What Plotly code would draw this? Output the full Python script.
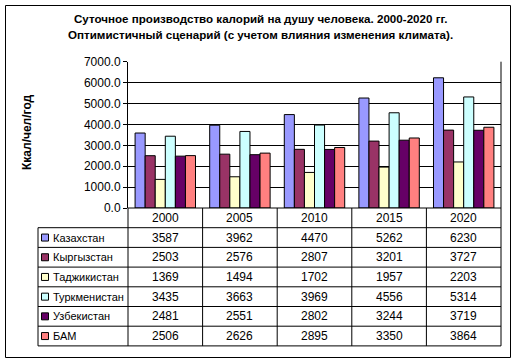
import plotly.graph_objects as go

years = ["2000", "2005", "2010", "2015", "2020"]
countries = ["Казахстан", "Кыргызстан", "Таджикистан", "Туркменистан", "Узбекистан", "БАМ"]
kazakhstan = [3587, 3962, 4470, 5262, 6230]
kyrgyzstan = [2503, 2576, 2807, 3201, 3727]
tajikistan = [1369, 1494, 1702, 1957, 2203]
turkmenistan = [3435, 3663, 3969, 4556, 5314]
uzbekistan = [2481, 2551, 2802, 3244, 3719]
bam = [2506, 2626, 2895, 3350, 3864]
series = [kazakhstan, kyrgyzstan, tajikistan, turkmenistan, uzbekistan, bam]
colors = ["#9999FF", "#993366", "#FFFFCC", "#CCFFFF", "#660066", "#FF8080"]
title_lines = ["Суточное производство калорий на душу человека. 2000-2020 гг.",
               "Оптимистичный сценарий (с учетом влияния изменения климата)."]
y_title = "Ккал/чел/год"

W, H = 517, 363
FONT = "Liberation Sans, Arial, sans-serif"
NUM_FONT = "Liberation Sans Narrow, Liberation Sans, Arial, sans-serif"

def px(x):
    return x / W

def py(y):
    return 1 - y / H

# layout in pixels
PL, PR = 128, 501
PT, PB = 61.7, 208
LEG_L = 38
ROW_H = 19.7
n_rows = len(countries)

fig = go.Figure()
xs = list(range(len(years)))
for name, vals, c in zip(countries, series, colors):
    fig.add_trace(go.Bar(x=xs, y=vals, name=name, marker=dict(color=c, line=dict(color="black", width=1)),
                         showlegend=False, hoverinfo="skip"))

shapes = []
annotations = []

def line(x0, y0, x1, y1):
    shapes.append(dict(type="line", xref="paper", yref="paper", x0=px(x0), y0=py(y0), x1=px(x1), y1=py(y1),
                       line=dict(color="black", width=1)))

# outer border
shapes.append(dict(type="rect", xref="paper", yref="paper", x0=px(5.5), y0=py(357.5), x1=px(510.5), y1=py(5.5),
                   line=dict(color="black", width=1)))
# plot right border
line(PR, PT, PR, PB)

# table
col_w = (PR - PL) / len(years)
table_bottom = PB + ROW_H * (n_rows + 1)
line(PL, PB, PR, PB)
for i in range(1, n_rows + 2):
    y = PB + ROW_H * i
    line(LEG_L, y, PR, y)
for j in range(len(years) + 1):
    x = PL + col_w * j
    line(x, PB, x, table_bottom)
line(LEG_L, PB + ROW_H, LEG_L, table_bottom)

# header
for j, yr in enumerate(years):
    annotations.append(dict(x=px(PL + col_w * (j + 0.5)), y=py(PB + ROW_H * 0.5), xref="paper", yref="paper",
                            text=yr, showarrow=False, font=dict(family=NUM_FONT, size=12, color="black"),
                            xanchor="center", yanchor="middle"))
# rows
for i, (name, vals, c) in enumerate(zip(countries, series, colors)):
    yc = PB + ROW_H * (i + 1.5)
    shapes.append(dict(type="rect", xref="paper", yref="paper", x0=px(41.5), x1=px(48.5),
                       y0=py(yc - 3.5), y1=py(yc + 3.5), fillcolor=c, line=dict(color="black", width=1)))
    annotations.append(dict(x=px(51), y=py(yc), xref="paper", yref="paper", text=name, showarrow=False,
                            font=dict(family=FONT, size=11, color="black"), xanchor="left", yanchor="middle"))
    for j, v in enumerate(vals):
        annotations.append(dict(x=px(PL + col_w * (j + 0.5)), y=py(yc), xref="paper", yref="paper",
                                text=str(v), showarrow=False, font=dict(family=NUM_FONT, size=12, color="black"),
                                xanchor="center", yanchor="middle"))

# title
for k, t in enumerate(title_lines):
    annotations.append(dict(x=px(260), y=py(18 + 17 * k), xref="paper", yref="paper", text="<b>" + t + "</b>",
                            showarrow=False, font=dict(family=FONT, size=11.6, color="black"),
                            xanchor="center", yanchor="middle"))
# y title
annotations.append(dict(x=px(27), y=py(132), xref="paper", yref="paper", text="<b>" + y_title + "</b>",
                        showarrow=False, textangle=-90, font=dict(family=FONT, size=12, color="black"),
                        xanchor="center", yanchor="middle"))

fig.update_layout(
    width=W, height=H, margin=dict(l=0, r=0, t=0, b=0, autoexpand=False),
    paper_bgcolor="white", plot_bgcolor="white",
    barmode="group", bargap=0.19, bargroupgap=0,
    xaxis=dict(domain=[px(PL), px(PR)], range=[-0.5, len(years) - 0.5], showticklabels=False,
               showgrid=False, zeroline=False, showline=False, ticks="", automargin=False),
    yaxis=dict(domain=[py(PB), py(PT)], range=[0, 7000], dtick=1000, tickformat=".1f",
               showgrid=True, gridcolor="black", gridwidth=1, zeroline=False, automargin=False,
               showline=True, linecolor="black", linewidth=1, ticks="outside", ticklen=4, tickcolor="black",
               tickfont=dict(family=FONT, size=12, color="black")),
    shapes=shapes, annotations=annotations,
)

fig.write_html("out.html", config={"displayModeBar": False},
               post_script="document.body.style.margin='0';document.body.style.overflow='hidden';")
